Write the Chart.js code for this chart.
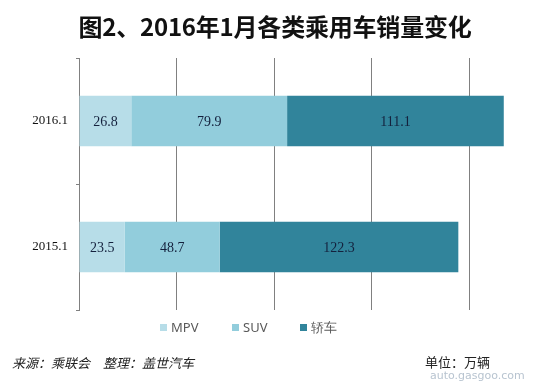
<!DOCTYPE html>
<html>
<head>
<meta charset="utf-8">
<script src="https://cdn.jsdelivr.net/npm/chart.js@4"></script>
<style>
  html, body { margin: 0; padding: 0; background: #fff; }
  #wrap { position: relative; width: 534px; height: 386px; overflow: hidden; }
  #chart { position: absolute; left: 0; top: 0; }
  .title { position: absolute; left: 8px; width: 534px; top: 8px; text-align: center;
    font: bold 24px "Noto Sans CJK SC", sans-serif; color: #111; letter-spacing: -0.2px; }
  .legend { position: absolute; top: 318px; left: 0; width: 534px; height: 18px;
    font: 13px "Noto Sans", sans-serif; color: #595959; }
  .legend span.item { position: absolute; line-height: 18px; white-space: nowrap; }
  .legend i { display: inline-block; width: 7px; height: 7px; margin-right: 4px; vertical-align: 1px; }
  .src { position: absolute; left: 12px; top: 353px; font: italic 13px "Noto Sans CJK SC", sans-serif; color: #222; }
  .unit { position: absolute; left: 425px; top: 352px; font: 13px "Noto Sans CJK SC", sans-serif; color: #222; }
  .wm { position: absolute; left: 430px; top: 369px; font: 11px "DejaVu Sans", sans-serif; color: #b8c4d0; }
</style>
</head>
<body>
<div id="wrap">
  <canvas id="chart" width="534" height="386"></canvas>
  <div class="title">图2、2016年1月各类乘用车销量变化</div>
  <div class="legend" id="legend"></div>
  <div class="src">来源：乘联会　整理：盖世汽车</div>
  <div class="unit">单位：万辆</div>
  <div class="wm">auto.gasgoo.com</div>
</div>
<script>
// 数据
const categories = ['2016.1', '2015.1'];
const seriesNames = ['MPV', 'SUV', '轿车'];
const mpvValues = [26.8, 23.5];
const suvValues = [79.9, 48.7];
const carValues = [111.1, 122.3];
const seriesColors = ['#b7dde8', '#92cddc', '#31849b'];
const legendLeft = [160, 232, 300];

// 图例
const legendEl = document.getElementById('legend');
legendEl.innerHTML = seriesNames.map((n, i) =>
  `<span class="item" style="left:${legendLeft[i]}px"><i style="background:${seriesColors[i]}"></i>${n}</span>`
).join('');

// 数据标签
const barLabels = {
  id: 'barLabels',
  afterDatasetsDraw(chart) {
    const ctx = chart.ctx;
    ctx.save();
    ctx.font = '14px "Liberation Serif", serif';
    ctx.fillStyle = '#14213d';
    ctx.textAlign = 'center';
    ctx.textBaseline = 'middle';
    chart.data.datasets.forEach((ds, di) => {
      chart.getDatasetMeta(di).data.forEach((bar, i) => {
        const { x, base, y } = bar.getProps(['x', 'base', 'y'], true);
        ctx.fillText(ds.data[i].toFixed(1), (x + base) / 2, y + 1);
      });
    });
    ctx.restore();
  }
};

new Chart(document.getElementById('chart'), {
  type: 'bar',
  data: {
    labels: categories,
    datasets: [mpvValues, suvValues, carValues].map((d, i) => ({
      label: seriesNames[i],
      data: d,
      backgroundColor: seriesColors[i],
      borderWidth: 0,
      categoryPercentage: 1,
      barPercentage: 0.4
    }))
  },
  options: {
    indexAxis: 'y',
    responsive: false,
    animation: false,
    layout: { padding: { top: 58, bottom: 76, left: 0, right: 0 } },
    plugins: { legend: { display: false }, tooltip: { enabled: false } },
    scales: {
      x: {
        stacked: true,
        min: 0,
        max: 233.3,
        afterBuildTicks: (s) => { s.ticks = [0, 50, 100, 150, 200].map(v => ({ value: v })); },
        afterFit: (s) => { s.height = 0; },
        ticks: { display: false },
        grid: { color: '#808080', lineWidth: 1, drawTicks: false },
        border: { display: false }
      },
      y: {
        stacked: true,
        afterFit: (s) => { s.width = 79; },
        ticks: { color: '#111', padding: 8, font: { family: '"Liberation Serif", serif', size: 13 } },
        grid: { drawOnChartArea: false, offset: true, tickLength: 3, color: '#808080' },
        border: { display: true, color: '#808080', width: 1 }
      }
    }
  },
  plugins: [barLabels]
});
</script>
</body>
</html>
